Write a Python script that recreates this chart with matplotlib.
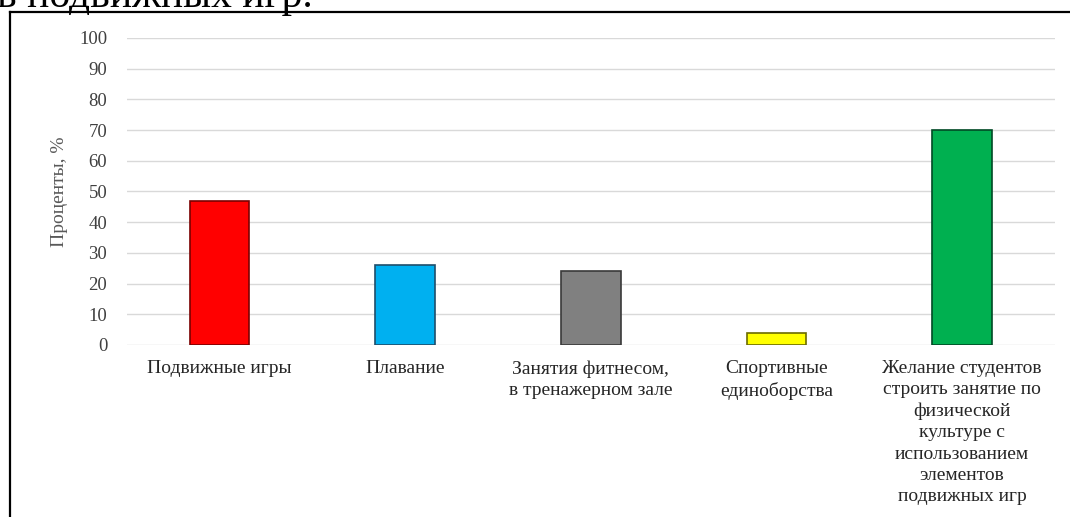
import matplotlib.pyplot as plt
from matplotlib.lines import Line2D

plt.rcParams['font.family'] = ['Liberation Serif', 'DejaVu Serif']

categories = [
    'Подвижные игры',
    'Плавание',
    'Занятия фитнесом,\nв тренажерном зале',
    'Спортивные\nединоборства',
    'Желание студентов\nстроить занятие по\nфизической\nкультуре с\nиспользованием\nэлементов\nподвижных игр',
]
values = [47, 26, 24, 4, 70]
colors = ['#FF0000', '#00B0F0', '#808080', '#FFFF00', '#00B050']
edges = ['#7A0000', '#1F4E6B', '#3A3A3A', '#6B6B00', '#004A25']
yticks = [0, 10, 20, 30, 40, 50, 60, 70, 80, 90, 100]

fig = plt.figure(figsize=(10.7, 5.17), dpi=100)
ax = fig.add_axes([0.1184, 0.3327, 0.8676, 0.5938])

x = range(len(categories))
ax.bar(x, values, width=0.32, color=colors, edgecolor=edges, linewidth=1.2, zorder=3)

ax.set_xlim(-0.5, len(categories) - 0.5)
ax.set_ylim(0, 100)
ax.set_yticks(yticks)
ax.set_xticks(list(x))
ax.set_xticklabels(categories, fontsize=14, color='#262626', linespacing=1.32)
ax.tick_params(axis='y', length=0, pad=14, labelsize=13.5, labelcolor='#404040')
ax.tick_params(axis='x', length=0, pad=11)
ax.grid(axis='y', color='#D9D9D9', linewidth=1, zorder=0)
for s in ax.spines.values():
    s.set_visible(False)

ax.set_ylabel('Проценты, %', fontsize=14, color='#595959', labelpad=8)

# рамка документа и обрезанная строка текста сверху
fig.add_artist(Line2D([0.0098, 0.0098], [0, 1 - 12 / 517], color='black', linewidth=1.6))
fig.add_artist(Line2D([0.0098, 1], [1 - 12 / 517, 1 - 12 / 517], color='black', linewidth=1.6))
fig.text(-0.003, 1 - 7 / 517, 'в подвижных игр.', fontsize=30, va='baseline', ha='left')

fig.savefig('out.png', dpi=100)
